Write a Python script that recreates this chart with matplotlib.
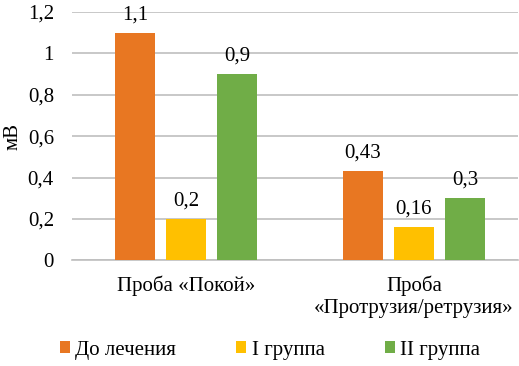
import matplotlib
matplotlib.use("Agg")
import matplotlib.pyplot as plt
from matplotlib.patches import Patch
import numpy as np

categories = ["Проба «Покой»", "Проба\n«Протрузия/ретрузия»"]
series_names = ["До лечения", "I группа", "II группа"]
before = [1.1, 0.43]
group1 = [0.2, 0.16]
group2 = [0.9, 0.3]
yticks = [0, 0.2, 0.4, 0.6, 0.8, 1.0, 1.2]
ytick_labels = ["0", "0,2", "0,4", "0,6", "0,8", "1", "1,2"]
value_labels = [["1,1", "0,43"], ["0,2", "0,16"], ["0,9", "0,3"]]
colors = ["#E87722", "#FFC000", "#70AD47"]

plt.rcParams['font.family'] = ['Liberation Serif', 'DejaVu Serif']
plt.rcParams['font.size'] = 15
FAM = ['Liberation Serif', 'DejaVu Serif']
FS = 15

W, H = 519, 366
fig = plt.figure(figsize=(W / 100, H / 100), dpi=100)
ax = fig.add_axes([72 / W, (H - 260.3) / H, (518 - 72) / W, (260.3 - 12) / H])

x = np.arange(len(categories))
bw = 0.175
step = 0.2237
series = [before, group1, group2]
for i, (vals, c) in enumerate(zip(series, colors)):
    pos = x + (i - 1) * step
    bars = ax.bar(pos, vals, width=bw, color=c, zorder=3)
    for b, lab in zip(bars, value_labels[i]):
        ax.annotate(lab, (b.get_x() + b.get_width() / 2, b.get_height()),
                    xytext=(0, 6), textcoords="offset points",
                    ha="center", va="bottom", family=FAM, fontsize=FS, zorder=4)

ax.set_xlim(-0.5, -0.5 + (518 - 72) / 228)
ax.set_ylim(0, 1.2)
ax.set_yticks(yticks)
ax.set_yticklabels(ytick_labels, family=FAM, fontsize=FS)
ax.set_xticks(x)
ax.set_xticklabels(categories, family=FAM, fontsize=FS, linespacing=1.2)
ax.tick_params(axis='y', length=0, pad=13)
ax.tick_params(axis='x', length=0, pad=11)
ax.yaxis.grid(True, color="#BFBFBF", linewidth=1.2, zorder=0)
for s in ["top", "right", "left"]:
    ax.spines[s].set_visible(False)
ax.spines["bottom"].set_color("#BFBFBF")
ax.spines["bottom"].set_linewidth(1.2)
ax.set_ylabel("мВ", family=FAM, fontsize=FS, labelpad=4)

handles = [Patch(facecolor=c, edgecolor="none") for c in colors]
fig.legend(handles, series_names, loc="center", bbox_to_anchor=(270 / W, (H - 350) / H),
           ncol=3, frameon=False, prop={'family': FAM, 'size': FS},
           handlelength=0.48, handleheight=0.48,
           handletextpad=0.25, columnspacing=2.9)

fig.savefig("out.png", dpi=100)
